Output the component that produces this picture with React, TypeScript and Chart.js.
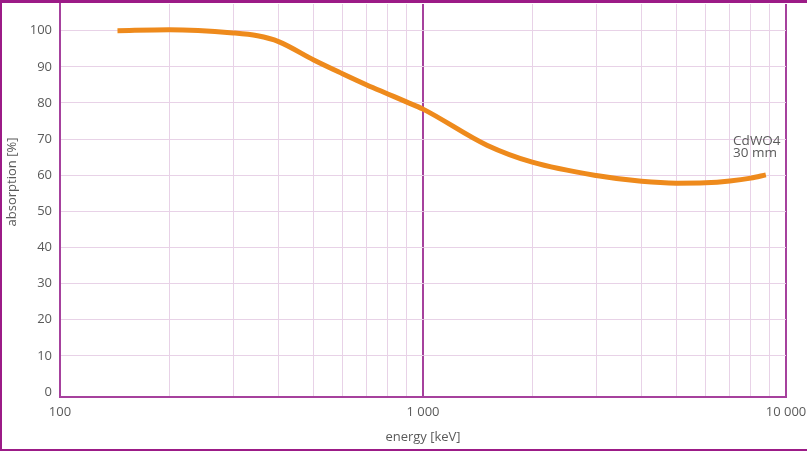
import React, { useEffect, useRef } from 'react';
import { Chart, registerables } from 'chart.js';

Chart.register(...registerables);

// ---- data ----
const energyKeV = [144, 200, 300, 350, 400, 500, 600, 700, 800, 900, 1000, 1500, 2000, 3000, 4000, 5000, 6000, 7000, 8000, 8800];
const absorptionPct = [100, 100.3, 99.4, 98.6, 97.0, 91.9, 88.1, 85.0, 82.5, 80.3, 78.3, 68.3, 63.6, 59.9, 58.3, 57.8, 57.9, 58.4, 59.2, 60.1];

const xTickValues = [100, 200, 300, 400, 500, 600, 700, 800, 900, 1000, 2000, 3000, 4000, 5000, 6000, 7000, 8000, 9000, 10000];
const xMajorValues = [1000, 10000];
const xTickLabels: Record<number, string> = { 100: '100', 1000: '1 000', 10000: '10 000' };
const yTickValues = [0, 10, 20, 30, 40, 50, 60, 70, 80, 90, 100];

const xTitle = 'energy [keV]';
const yTitle = 'absorption [%]';
const seriesLabel = ['CdWO4', '30 mm'];
const seriesLabelAnchor = { energy: 7150, lines: [69.5, 66.0] };

// ---- styles ----
const FONT = 'Open Sans';
const TEXT = '#5a5a5a';
const GRID = '#e8d2e7';
const AXIS = '#a6419d';
const FRAME = '#9c1b87';
const CURVE = '#ee8a1c';

const decorPlugin = {
  id: 'decor',
  beforeDraw(chart: any) {
    const { ctx, width, height } = chart;
    ctx.save();
    ctx.fillStyle = '#ffffff';
    ctx.fillRect(0, 0, width, height);
    ctx.restore();
  },
  afterDraw(chart: any) {
    const { ctx, width, height } = chart;
    const xs = chart.scales.x;
    const ys = chart.scales.y;
    ctx.save();
    // frame
    ctx.fillStyle = FRAME;
    ctx.fillRect(0, 0, width, 3);
    ctx.fillRect(0, 0, 2, height);
    ctx.fillRect(0, height - 2, width, 2);
    // y title
    ctx.fillStyle = TEXT;
    ctx.font = `13px "${FONT}"`;
    ctx.textAlign = 'center';
    ctx.textBaseline = 'middle';
    ctx.translate(12, 182);
    ctx.rotate(-Math.PI / 2);
    ctx.fillText(yTitle, 0, 0);
    ctx.restore();
    // series label
    ctx.save();
    ctx.fillStyle = TEXT;
    ctx.font = `13.5px "${FONT}"`;
    ctx.textAlign = 'left';
    ctx.textBaseline = 'middle';
    const lx = xs.getPixelForValue(seriesLabelAnchor.energy);
    seriesLabel.forEach((t, i) => {
      ctx.fillText(t, lx, ys.getPixelForValue(seriesLabelAnchor.lines[i]));
    });
    ctx.restore();
  },
};

export default function App() {
  const ref = useRef<HTMLCanvasElement>(null);
  useEffect(() => {
    document.body.style.margin = '0';
    const canvas = ref.current!;
    const chart = new Chart(canvas, {
      type: 'line',
      data: {
        datasets: [
          {
            data: energyKeV.map((e, i) => ({ x: e, y: absorptionPct[i] })),
            borderColor: CURVE,
            borderWidth: 5,
            pointRadius: 0,
            fill: false,
            cubicInterpolationMode: 'monotone',
          },
        ],
      },
      options: {
        responsive: false,
        animation: false,
        events: [],
        layout: { padding: { left: 0, right: 21, top: 4, bottom: 0 } },
        plugins: { legend: { display: false }, tooltip: { enabled: false } },
        scales: {
          x: {
            type: 'logarithmic',
            min: 100,
            max: 10000,
            afterBuildTicks: (s: any) => {
              s.ticks = xTickValues.map((v) => ({ value: v }));
            },
            afterFit: (s: any) => {
              s.height = 54;
              s.paddingLeft = 0;
              s.paddingRight = 0;
            },
            ticks: {
              autoSkip: false,
              maxRotation: 0,
              padding: 7,
              color: TEXT,
              font: { family: FONT, size: 13 },
              callback: (v: any) => xTickLabels[Number(v)] ?? '',
            },
            grid: {
              drawTicks: false,
              color: (c: any) => (xMajorValues.includes(c.tick?.value) ? AXIS : GRID),
              lineWidth: (c: any) => (xMajorValues.includes(c.tick?.value) ? 2 : 1),
            },
            border: { color: AXIS, width: 2 },
            title: {
              display: true,
              text: xTitle,
              color: TEXT,
              font: { family: FONT, size: 13 },
              padding: { top: 0, bottom: 6 },
            },
          },
          y: {
            type: 'linear',
            min: -1.4,
            max: 107.4,
            afterBuildTicks: (s: any) => {
              s.ticks = yTickValues.map((v) => ({ value: v }));
            },
            afterFit: (s: any) => {
              s.width = 60;
              s.paddingTop = 0;
              s.paddingBottom = 0;
            },
            ticks: {
              padding: 8,
              color: TEXT,
              font: { family: FONT, size: 13 },
            },
            grid: {
              drawTicks: false,
              color: (c: any) => (c.tick?.value === 0 ? 'rgba(0,0,0,0)' : GRID),
              lineWidth: 1,
            },
            border: { color: AXIS, width: 2 },
          },
        },
      },
      plugins: [decorPlugin],
    } as any);
    return () => chart.destroy();
  }, []);
  return (
    <div style={{ position: 'absolute', left: 0, top: 0, width: 807, height: 451 }}>
      <canvas ref={ref} width={807} height={451} />
    </div>
  );
}
